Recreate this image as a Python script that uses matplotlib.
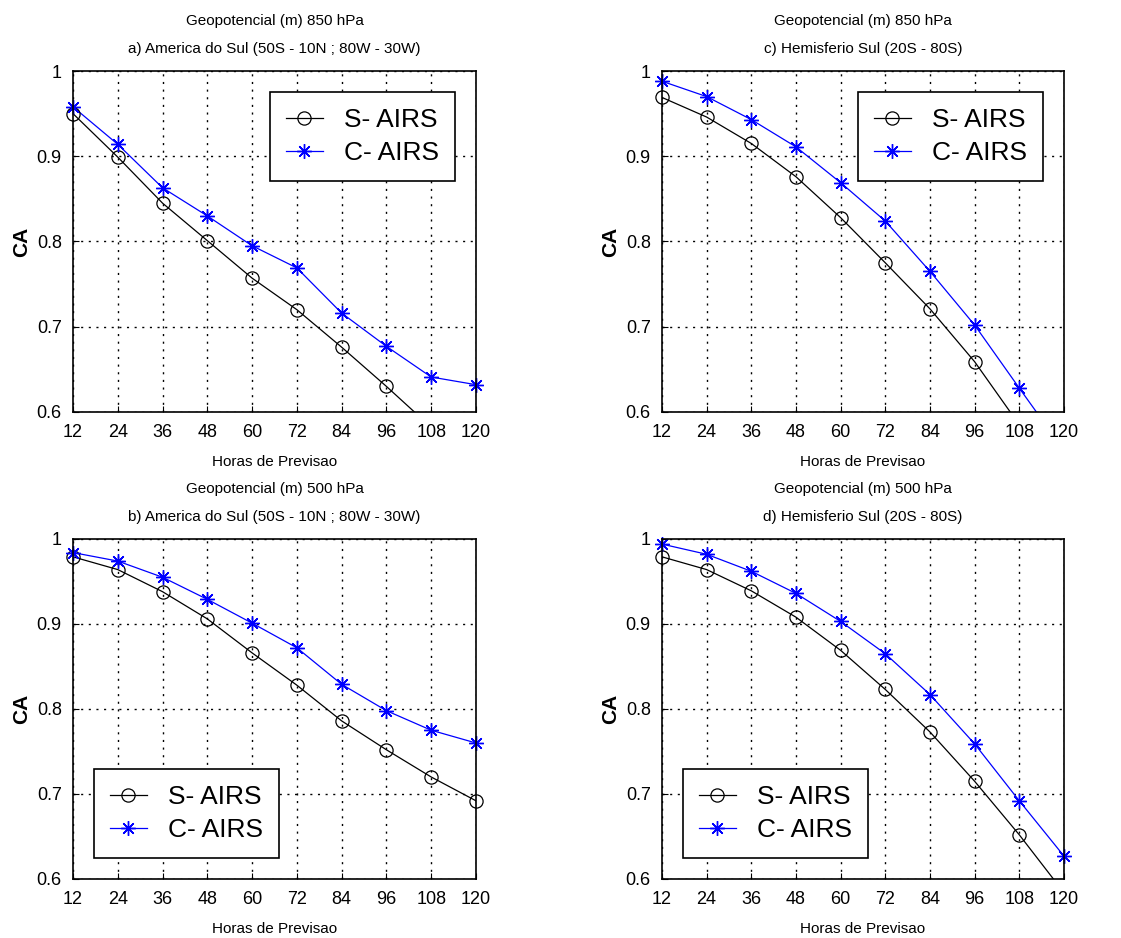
import numpy as np
import matplotlib
matplotlib.use("Agg")
import matplotlib.pyplot as plt
from matplotlib.lines import Line2D

plt.rcParams['font.family'] = ['Liberation Sans', 'DejaVu Sans']

horas = [12, 24, 36, 48, 60, 72, 84, 96, 108, 120]

# a) America do Sul 850 hPa
a_s = [0.950, 0.899, 0.845, 0.801, 0.757, 0.720, 0.676, 0.630, 0.582, 0.540]
a_c = [0.958, 0.914, 0.863, 0.830, 0.795, 0.769, 0.716, 0.677, 0.641, 0.632]
# c) Hemisferio Sul 850 hPa
c_s = [0.969, 0.946, 0.915, 0.876, 0.828, 0.775, 0.721, 0.659, 0.585, 0.510]
c_c = [0.988, 0.970, 0.943, 0.911, 0.869, 0.824, 0.765, 0.702, 0.628, 0.555]
# b) America do Sul 500 hPa
b_s = [0.979, 0.964, 0.938, 0.906, 0.866, 0.828, 0.786, 0.752, 0.720, 0.692]
b_c = [0.984, 0.974, 0.955, 0.929, 0.901, 0.872, 0.829, 0.798, 0.775, 0.760]
# d) Hemisferio Sul 500 hPa
d_s = [0.979, 0.964, 0.939, 0.908, 0.869, 0.823, 0.773, 0.715, 0.652, 0.584]
d_c = [0.994, 0.982, 0.962, 0.936, 0.903, 0.865, 0.817, 0.759, 0.692, 0.627]

titles = [
    "Geopotencial (m) 850 hPa\na) America do Sul (50S - 10N ; 80W - 30W)",
    "Geopotencial (m) 850 hPa\nc) Hemisferio Sul (20S - 80S)",
    "Geopotencial (m) 500 hPa\nb) America do Sul (50S - 10N ; 80W - 30W)",
    "Geopotencial (m) 500 hPa\nd) Hemisferio Sul (20S - 80S)",
]
series = [(a_s, a_c), (c_s, c_c), (b_s, b_c), (d_s, d_c)]
legend_loc = ["upper right", "upper right", "lower left", "lower left"]
positions = [
    [0.0651, 0.5608, 0.3595, 0.3635],
    [0.5905, 0.5608, 0.3586, 0.3635],
    [0.0651, 0.0629, 0.3595, 0.3625],
    [0.5905, 0.0629, 0.3586, 0.3625],
]

s_style = dict(color='black', lw=0.9, marker='o', ms=9.5, mfc='none',
               mec='black', mew=0.9)
c_style = dict(color='blue', lw=0.9, marker=(8, 2, 0), ms=10.5,
               mec='blue', mew=1.0)

fig = plt.figure(figsize=(11.21, 9.38), dpi=100)

for i in range(4):
    ax = fig.add_axes(positions[i])
    s, c = series[i]
    s_vis = np.where(np.array(s) >= 0.6, s, np.nan)
    c_vis = np.where(np.array(c) >= 0.6, c, np.nan)
    # lines clipped at the axes, markers allowed to spill over the frame
    ax.plot(horas, s, color='black', lw=0.9)
    ax.plot(horas, c, color='blue', lw=0.9)
    ax.plot(horas, s_vis, ls='none', marker='o', ms=9.5, mfc='none',
            mec='black', mew=0.9, clip_on=False)
    ax.plot(horas, c_vis, ls='none', marker=(8, 2, 0), ms=10.5,
            mec='blue', mew=1.0, clip_on=False)
    ax.set_xlim(12, 120)
    ax.set_ylim(0.6, 1.0)
    ax.set_xticks(horas)
    ax.set_yticks([0.6, 0.7, 0.8, 0.9, 1.0])
    ax.set_yticklabels(['0.6', '0.7', '0.8', '0.9', '1'])
    ax.tick_params(direction='in', labelsize=13, length=4)
    ax.tick_params(axis='x', pad=9)
    ax.tick_params(axis='y', pad=8)
    ax.grid(True, color='black', ls=(0, (1.5, 4)), lw=1.0)
    for sp in ax.spines.values():
        sp.set_linewidth(1.2)
    ax.set_title(titles[i], fontsize=11, linespacing=2.3, pad=13)
    ax.set_xlabel("Horas de Previsao", fontsize=11, labelpad=10)
    ax.set_ylabel("CA", fontsize=15, fontweight='bold', labelpad=4)
    handles = [Line2D([], [], **s_style), Line2D([], [], **c_style)]
    leg = ax.legend(handles, ['S- AIRS', 'C- AIRS'], loc=legend_loc[i],
                    fontsize=19, fancybox=False, framealpha=1,
                    edgecolor='black', borderpad=0.6, handlelength=1.4,
                    handletextpad=0.8, labelspacing=0.35, borderaxespad=0.8)
    leg.get_frame().set_linewidth(1.2)

fig.savefig("out.png", dpi=100)
